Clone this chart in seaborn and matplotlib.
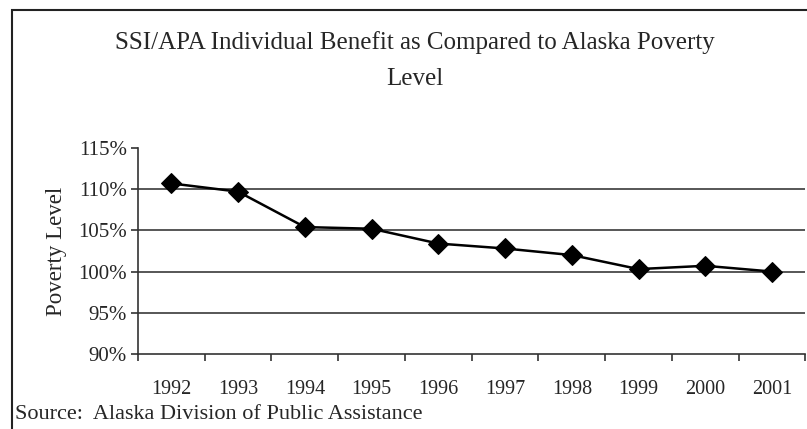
import numpy as np
import pandas as pd
import seaborn as sns
import matplotlib.pyplot as plt
from matplotlib.patches import Rectangle
from matplotlib.ticker import FixedLocator, PercentFormatter

years = ["1992", "1993", "1994", "1995", "1996", "1997", "1998", "1999", "2000", "2001"]
benefit = [110.7, 109.7, 105.4, 105.2, 103.4, 102.8, 102.0, 100.3, 100.7, 100.0]
yticks = [90, 95, 100, 105, 110, 115]

df = pd.DataFrame({"Year": years, "Poverty Level": benefit})

sns.set_style("white")
plt.rcParams["font.family"] = ["Liberation Serif", "DejaVu Serif"]

fig = plt.figure(figsize=(8.07, 4.29), dpi=100)
ax = fig.add_axes([0.171, 0.175, 0.827, 0.48])

sns.lineplot(data=df, x="Year", y="Poverty Level", marker="D", markersize=10,
             color="black", linewidth=1.8, markeredgecolor="black", ax=ax)

ax.set_ylim(90, 115)
ax.set_xlim(-0.5, len(years) - 0.5)
ax.set_yticks(yticks)
ax.yaxis.set_major_formatter(PercentFormatter(decimals=0))
for v in yticks[1:-1]:
    ax.axhline(v, color="#3a3a3a", linewidth=1.2, zorder=0)

ax.set_xticks(range(len(years)))
ax.set_xticklabels(years)
ax.xaxis.set_minor_locator(FixedLocator(np.arange(-0.5, len(years), 1.0)))
ax.tick_params(axis="x", which="major", length=0, pad=19, labelsize=14.5)
ax.tick_params(axis="x", which="minor", length=5, width=1.2, direction="out", color="#333333")
ax.tick_params(axis="y", length=5, width=1.2, direction="out", color="#333333", labelsize=15, pad=3)
ax.tick_params(axis="both", bottom=True, left=True, which="both")

for s in ["top", "right"]:
    ax.spines[s].set_visible(False)
for s in ["left", "bottom"]:
    ax.spines[s].set_color("#333333")
    ax.spines[s].set_linewidth(1.2)

ax.set_xlabel("")
ax.set_ylabel("Poverty Level", fontsize=16.5, labelpad=8)

fig.text(0.514, 0.902, "SSI/APA Individual Benefit as Compared to Alaska Poverty",
         ha="center", va="center", fontsize=18)
fig.text(0.514, 0.815, "Level", ha="center", va="center", fontsize=18)
fig.text(0.019, 0.033, "Source:  Alaska Division of Public Assistance",
         ha="left", va="center", fontsize=16)

fig.patches.append(Rectangle((12 / 807, -0.1), 1.2, 1.1 - 10 / 429, transform=fig.transFigure,
                             fill=False, edgecolor="#222222", linewidth=1.5))

fig.savefig("out.png", dpi=100)
